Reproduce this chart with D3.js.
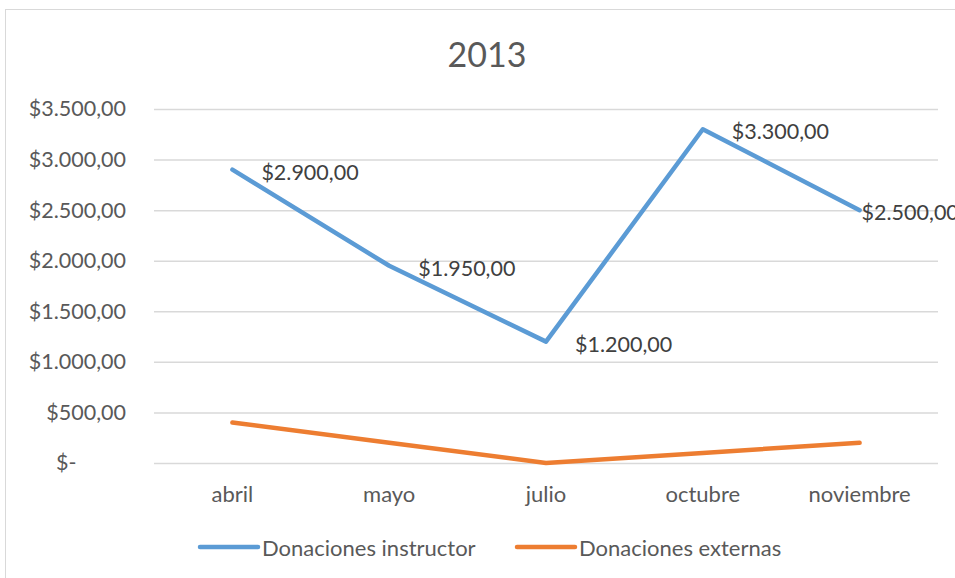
<!DOCTYPE html>
<html><head><meta charset="utf-8">
<script src="https://cdn.jsdelivr.net/npm/d3@7/dist/d3.min.js"></script>
<style>body{margin:0;background:#fff;} text{font-family:Lato,"Open Sans",sans-serif;}</style>
</head><body>
<svg id="c" width="955" height="578"></svg>
<script>
const title = "2013";
const categories = ["abril","mayo","julio","octubre","noviembre"];
const seriesNames = ["Donaciones instructor","Donaciones externas"];
const instructor = [2900,1950,1200,3300,2500];
const externas = [400,200,0,100,200];
const yTicks = [0,500,1000,1500,2000,2500,3000,3500];
const colors = ["#5B9BD5","#ED7D31"];

(function(){
const svg = d3.select("#c");
svg.append("rect").attr("x",5.5).attr("y",9.5).attr("width",1000).attr("height",700)
  .attr("fill","#fff").attr("stroke","#D9D9D9");

const pL=154,pR=938,pT=109,pB=463;
const x = d3.scaleBand().domain(categories).range([pL,pR]);
const y = d3.scaleLinear().domain([0,3500]).range([pB,pT]);

const fmt = v => v===0 ? "$-" : "$" + d3.format(",.2f")(v).replace(/,/g,"#").replace(/\./g,",").replace(/#/g,".");

svg.append("text").attr("x",487).attr("y",53).attr("text-anchor","middle")
  .attr("dominant-baseline","central").attr("font-size",34).attr("fill","#595959").text(title);

svg.append("g").selectAll("line").data(yTicks).join("line")
  .attr("x1",pL).attr("x2",pR).attr("y1",d=>y(d)+0.5).attr("y2",d=>y(d)+0.5)
  .attr("stroke","#D9D9D9").attr("stroke-width",1.5);

const yAxis = d3.axisLeft(y).tickValues(yTicks).tickSize(0).tickPadding(0).tickFormat(fmt);
const gy = svg.append("g").attr("transform",`translate(126,0)`).call(yAxis);
gy.select(".domain").remove();
gy.selectAll("text").attr("font-size",21.5).attr("fill","#595959").attr("font-family","Lato");
gy.select(".tick:first-of-type text").attr("x",-(126-56)).attr("text-anchor","start");

const xAxis = d3.axisBottom(x).tickSize(0).tickPadding(0);
const gx = svg.append("g").attr("transform",`translate(0,${pB+32})`).call(xAxis);
gx.select(".domain").remove();
gx.selectAll("text").attr("font-size",22).attr("fill","#595959").attr("font-family","Lato").attr("dy","0.32em");

const line = d3.line().x((d,i)=>x(categories[i])+x.bandwidth()/2).y(d=>y(d));
[instructor,externas].forEach((s,k)=>{
  svg.append("path").attr("d",line(s)).attr("fill","none").attr("stroke",colors[k])
    .attr("stroke-width",4.5).attr("stroke-linejoin","round").attr("stroke-linecap","round");
});

svg.append("g").selectAll("text").data(instructor).join("text")
  .attr("x",(d,i)=>x(categories[i])+x.bandwidth()/2 + (i===categories.length-1?2:29))
  .attr("y",(d,i)=>y(d)+2).attr("dominant-baseline","central")
  .attr("font-size",21.5).attr("fill","#404040").text(fmt);

const leg = svg.append("g");
const legItems = [{x:200,name:seriesNames[0],c:colors[0]},{x:517,name:seriesNames[1],c:colors[1]}];
legItems.forEach(it=>{
  leg.append("line").attr("x1",it.x).attr("x2",it.x+58).attr("y1",547).attr("y2",547)
    .attr("stroke",it.c).attr("stroke-width",4.5).attr("stroke-linecap","round");
  leg.append("text").attr("x",it.x+62).attr("y",547).attr("dominant-baseline","central")
    .attr("font-size",22).attr("fill","#595959").text(it.name);
});
})();
</script>
</body></html>
